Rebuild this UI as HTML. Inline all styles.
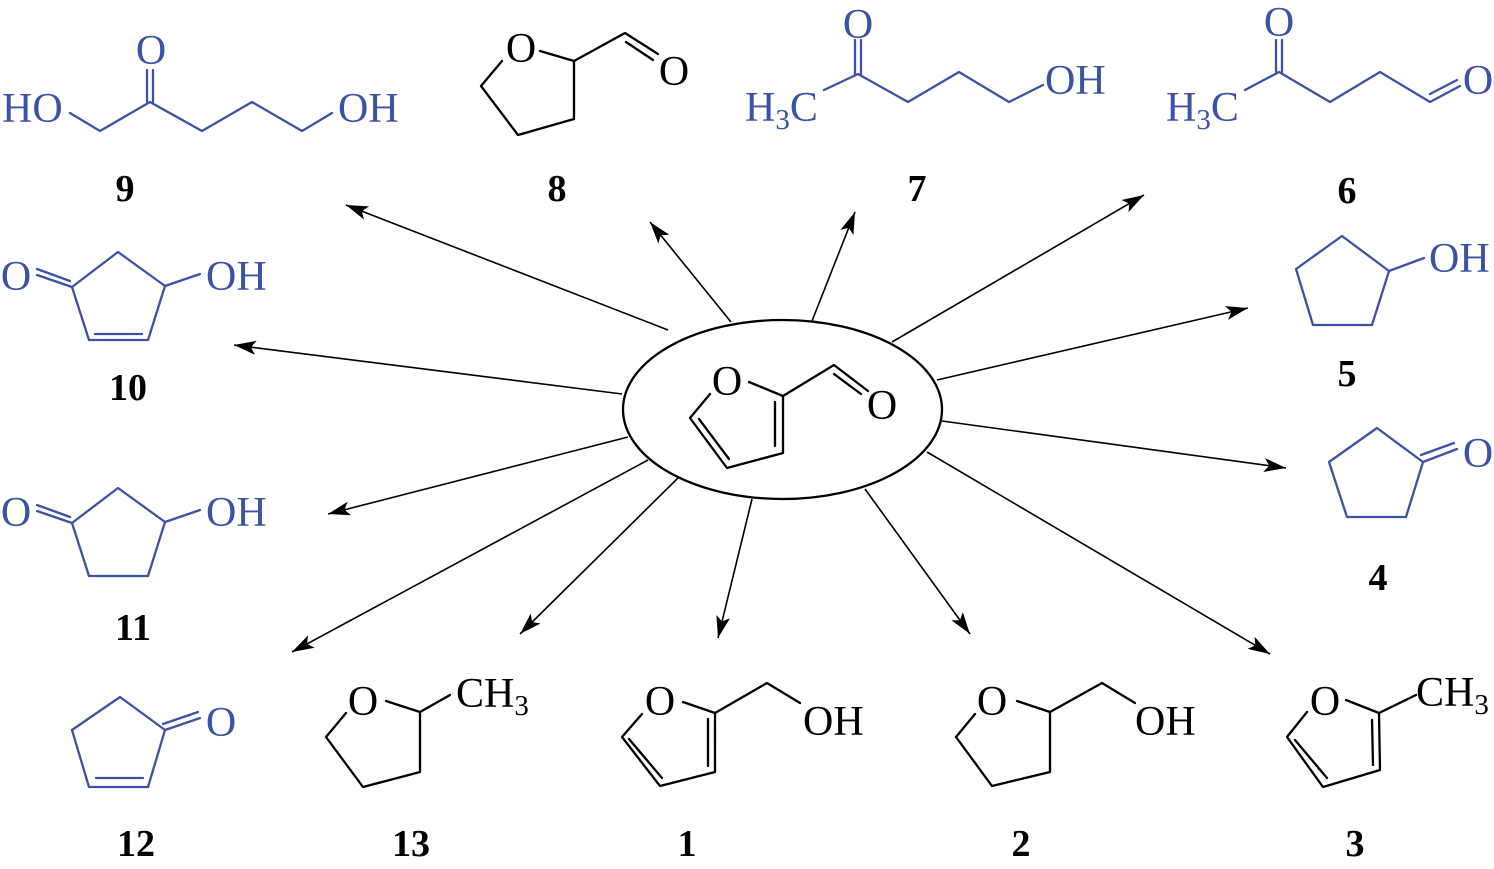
<!DOCTYPE html>
<html><head><meta charset="utf-8"><style>
html,body{margin:0;padding:0;background:#fff;}
svg{display:block;}
.b{stroke:#3a53a6;fill:none;stroke-width:2.3;stroke-linecap:round;stroke-linejoin:round;}
.k{stroke:#000;fill:none;stroke-width:2.3;stroke-linecap:round;stroke-linejoin:round;}
.a{stroke:#000;fill:none;stroke-width:1.6;}
.tb{fill:#3a53a6;font-family:"Liberation Serif",serif;font-size:42px;}
.tk{fill:#000;font-family:"Liberation Serif",serif;font-size:42px;}
.n{fill:#000;font-family:"Liberation Serif",serif;font-size:38px;font-weight:bold;text-anchor:middle;}
</style></head><body>
<svg width="1494" height="869" viewBox="0 0 1494 869" xmlns="http://www.w3.org/2000/svg">
<defs>
<marker id="ar" markerWidth="24" markerHeight="16" refX="22" refY="8" orient="auto" markerUnits="userSpaceOnUse">
<path d="M0,1 L22,8 L0,15 L5,8 Z" fill="#000"/>
</marker>
</defs>

<ellipse cx="782.5" cy="409.5" rx="159.5" ry="89.5" fill="none" stroke="#000" stroke-width="2.3"/>
<text class="tk" x="727" y="395" text-anchor="middle">O</text>
<polyline class="k" points="749,382 783,396 783,453 727,468 690,418 710,394"/>
<line class="k" x1="775" y1="402" x2="775" y2="446"/>
<line class="k" x1="699" y1="419" x2="729" y2="459"/>
<polyline class="k" points="783,396 834,365 868,391"/>
<line class="k" x1="834" y1="374" x2="861" y2="394"/>
<text class="tk" x="882" y="419" text-anchor="middle">O</text>

<line class="a" marker-end="url(#ar)" x1="668" y1="330" x2="346" y2="205"/>
<line class="a" marker-end="url(#ar)" x1="731" y1="322" x2="650" y2="222"/>
<line class="a" marker-end="url(#ar)" x1="812" y1="321" x2="855" y2="212"/>
<line class="a" marker-end="url(#ar)" x1="892" y1="342" x2="1144" y2="195"/>
<line class="a" marker-end="url(#ar)" x1="937" y1="380" x2="1248" y2="308"/>
<line class="a" marker-end="url(#ar)" x1="942" y1="421" x2="1286" y2="468"/>
<line class="a" marker-end="url(#ar)" x1="927" y1="452" x2="1270" y2="654"/>
<line class="a" marker-end="url(#ar)" x1="865" y1="489" x2="970" y2="634"/>
<line class="a" marker-end="url(#ar)" x1="752" y1="499" x2="718" y2="638"/>
<line class="a" marker-end="url(#ar)" x1="678" y1="478" x2="520" y2="634"/>
<line class="a" marker-end="url(#ar)" x1="648" y1="460" x2="292" y2="652"/>
<line class="a" marker-end="url(#ar)" x1="628" y1="437" x2="328" y2="514"/>
<line class="a" marker-end="url(#ar)" x1="622" y1="394" x2="234" y2="345"/>

<!-- 9 -->
<text class="tb" x="2" y="122">HO</text>
<polyline class="b" points="70,113 100,131 150,102 202,131 252,102 302,131 332,113"/>
<line class="b" x1="147" y1="70" x2="147" y2="102"/>
<line class="b" x1="153" y1="70" x2="153" y2="102"/>
<text class="tb" x="151" y="64" text-anchor="middle">O</text>
<text class="tb" x="338" y="122">OH</text>
<text class="n" x="125" y="201">9</text>

<!-- 8 -->
<text class="tk" x="521" y="62" text-anchor="middle">O</text>
<polyline class="k" points="540,51 574,61 574,119 518,135 481,86 502,61"/>
<polyline class="k" points="574,61 625,33 658,54"/>
<line class="k" x1="626" y1="42" x2="653" y2="60"/>
<text class="tk" x="674" y="85" text-anchor="middle">O</text>
<text class="n" x="557" y="201">8</text>

<!-- 7 -->
<text class="tb" x="858" y="38" text-anchor="middle">O</text>
<line class="b" x1="855" y1="40" x2="855" y2="75"/>
<line class="b" x1="861" y1="40" x2="861" y2="75"/>
<polyline class="b" points="824,90 858,74 908,102 959,72 1009,102 1043,85"/>
<text class="tb" x="745" y="121">H<tspan font-size="29" dy="8">3</tspan><tspan dy="-8">C</tspan></text>
<text class="tb" x="1045" y="94">OH</text>
<text class="n" x="917" y="201">7</text>

<!-- 6 -->
<text class="tb" x="1279" y="36" text-anchor="middle">O</text>
<line class="b" x1="1276" y1="40" x2="1276" y2="72"/>
<line class="b" x1="1282" y1="40" x2="1282" y2="72"/>
<polyline class="b" points="1245,90 1279,72 1330,102 1380,72 1430,102 1460,86"/>
<line class="b" x1="1430" y1="94" x2="1457" y2="80"/>
<text class="tb" x="1166" y="121">H<tspan font-size="29" dy="8">3</tspan><tspan dy="-8">C</tspan></text>
<text class="tb" x="1478" y="94" text-anchor="middle">O</text>
<text class="n" x="1347" y="203">6</text>

<!-- 5 -->
<polygon class="b" points="1342,236 1389,271 1372,325 1313,325 1296,269"/>
<line class="b" x1="1389" y1="271" x2="1424" y2="258"/>
<text class="tb" x="1429" y="272">OH</text>
<text class="n" x="1347" y="386">5</text>

<!-- 4 -->
<polygon class="b" points="1377,428 1423,462 1406,517 1347,517 1329,462"/>
<line class="b" x1="1423" y1="462" x2="1457" y2="449"/>
<line class="b" x1="1421" y1="455" x2="1454" y2="443"/>
<text class="tb" x="1478" y="467" text-anchor="middle">O</text>
<text class="n" x="1378" y="590">4</text>

<!-- 10 -->
<text class="tb" x="16" y="290" text-anchor="middle">O</text>
<polygon class="b" points="118,252 165,286 148,340 89,340 72,287"/>
<line class="b" x1="72" y1="287" x2="37" y2="275"/>
<line class="b" x1="70" y1="281" x2="37" y2="269"/>
<line class="b" x1="95" y1="334" x2="142" y2="334"/>
<line class="b" x1="165" y1="286" x2="200" y2="274"/>
<text class="tb" x="206" y="290">OH</text>
<text class="n" x="128" y="400">10</text>

<!-- 11 -->
<text class="tb" x="16" y="526" text-anchor="middle">O</text>
<polygon class="b" points="118,488 165,522 148,576 89,576 72,523"/>
<line class="b" x1="72" y1="523" x2="37" y2="511"/>
<line class="b" x1="70" y1="517" x2="37" y2="505"/>
<line class="b" x1="165" y1="522" x2="200" y2="510"/>
<text class="tb" x="206" y="526">OH</text>
<text class="n" x="133" y="640">11</text>

<!-- 12 -->
<polygon class="b" points="120,697 165,730 148,787 89,787 72,730"/>
<line class="b" x1="165" y1="730" x2="200" y2="718"/>
<line class="b" x1="163" y1="724" x2="198" y2="712"/>
<line class="b" x1="96" y1="778" x2="143" y2="778"/>
<text class="tb" x="221" y="736" text-anchor="middle">O</text>
<text class="n" x="136" y="856">12</text>

<!-- 13 -->
<text class="tk" x="363" y="715" text-anchor="middle">O</text>
<polyline class="k" points="386,701 420,712 420,772 363,787 326,737 346,713"/>
<line class="k" x1="420" y1="712" x2="450" y2="695"/>
<text class="tk" x="456" y="707">CH<tspan font-size="29" dy="8">3</tspan></text>
<text class="n" x="411" y="856">13</text>

<!-- 1 -->
<text class="tk" x="660" y="715" text-anchor="middle">O</text>
<polyline class="k" points="683,702 715,713 715,772 660,786 622,737 642,714"/>
<line class="k" x1="708" y1="719" x2="708" y2="766"/>
<line class="k" x1="629" y1="739" x2="662" y2="778"/>
<polyline class="k" points="715,713 767,683 800,703"/>
<text class="tk" x="803" y="735">OH</text>
<text class="n" x="687" y="856">1</text>

<!-- 2 -->
<text class="tk" x="992" y="715" text-anchor="middle">O</text>
<polyline class="k" points="1017,701 1050,712 1050,772 992,786 956,737 975,714"/>
<polyline class="k" points="1050,712 1102,683 1135,703"/>
<text class="tk" x="1135" y="735">OH</text>
<text class="n" x="1021" y="856">2</text>

<!-- 3 -->
<text class="tk" x="1325" y="715" text-anchor="middle">O</text>
<polyline class="k" points="1346,700 1379,713 1380,770 1323,787 1287,737 1307,712"/>
<line class="k" x1="1372" y1="720" x2="1373" y2="765"/>
<line class="k" x1="1295" y1="740" x2="1327" y2="778"/>
<line class="k" x1="1379" y1="713" x2="1416" y2="695"/>
<text class="tk" x="1416" y="706">CH<tspan font-size="29" dy="8">3</tspan></text>
<text class="n" x="1355" y="856">3</text>
</svg>
</body></html>
